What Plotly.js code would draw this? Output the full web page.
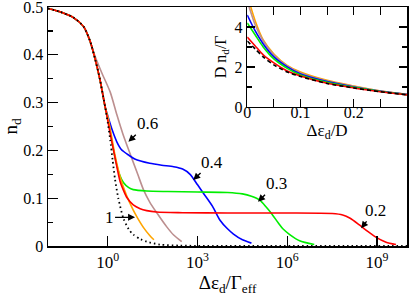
<!DOCTYPE html>
<html>
<head>
<meta charset="utf-8">
<script src="https://cdn.plot.ly/plotly-3.0.1.min.js"></script>
<style>html,body{margin:0;padding:0;background:#fff;}#plot{width:409px;height:297px;}</style>
</head>
<body>
<div id="plot"></div>
<script>
// ---------- main panel data (x given as log10 of Δε_d/Γ_eff) ----------
const commonLog = [-2, -1.6, -1.15, -0.81, -0.6, -0.42, -0.26, -0.09];
const commonNd  = [0.497, 0.49, 0.478, 0.459, 0.43, 0.39, 0.347, 0.291];

const dotLog = [0.0, 0.08, 0.16, 0.24, 0.35, 0.52, 0.7, 0.85, 1.1, 1.3, 1.74, 2.4, 3.0, 10];
const dotNd  = [0.257, 0.222, 0.18, 0.14, 0.1, 0.058, 0.035, 0.024, 0.014, 0.009, 0.003, 0.0008, 0.0004, 0.0004];

const redLog = [0.0, 0.08, 0.24, 0.41, 0.52, 0.63, 0.85, 1.08, 1.3, 1.63, 2.5, 4.0, 6.0, 7.5, 7.85, 8.1, 8.41, 8.7, 8.97, 9.3, 9.63];
const redNd  = [0.262, 0.235, 0.185, 0.135, 0.117, 0.102, 0.086, 0.078, 0.074, 0.071, 0.0697, 0.069, 0.069, 0.068, 0.065, 0.058, 0.044, 0.03, 0.018, 0.008, 0.003];

const orangeLog = [0.0, 0.08, 0.24, 0.41, 0.63, 0.85, 1.0, 1.2, 1.4, 1.54];
const orangeNd  = [0.27, 0.245, 0.19, 0.145, 0.105, 0.075, 0.058, 0.038, 0.022, 0.013];

const greenLog = [0.0, 0.08, 0.24, 0.4, 0.52, 0.7, 0.85, 1.3, 2.0, 3.0, 4.0, 4.5, 4.8, 5.08, 5.3, 5.47, 5.7, 5.85, 6.08, 6.41, 6.9];
const greenNd  = [0.265, 0.24, 0.185, 0.148, 0.133, 0.122, 0.118, 0.115, 0.114, 0.113, 0.112, 0.109, 0.104, 0.096, 0.081, 0.068, 0.048, 0.036, 0.024, 0.011, 0.003];

const blueLog = [0.0, 0.15, 0.3, 0.45, 0.7, 0.9, 1.4, 1.8, 2.2, 2.5, 2.75, 3.0, 3.2, 3.5, 3.75, 4.0, 4.2, 4.5, 4.8];
const blueNd  = [0.272, 0.242, 0.218, 0.202, 0.19, 0.182, 0.173, 0.169, 0.166, 0.161, 0.15, 0.128, 0.11, 0.083, 0.054, 0.036, 0.025, 0.013, 0.006];

const brownLog = [-2, -1.6, -1.15, -0.81, -0.6, -0.42, -0.2, 0.08, 0.3, 0.5, 0.75, 1.0, 1.19, 1.4, 1.63, 1.97, 2.2, 2.47];
const brownNd  = [0.497, 0.49, 0.478, 0.459, 0.429, 0.396, 0.362, 0.322, 0.275, 0.235, 0.192, 0.15, 0.118, 0.092, 0.07, 0.04, 0.023, 0.009];

const mainTickVals = [1, 1e3, 1e6, 1e9];
const mainTickText = ['10<sup>0</sup>', '10<sup>3</sup>', '10<sup>6</sup>', '10<sup>9</sup>'];
const yTickVals = [0, 0.1, 0.2, 0.3, 0.4, 0.5];
const yTickText = ['0', '0.1', '0.2', '0.3', '0.4', '0.5'];
const yMinorVals = [0.05, 0.15, 0.25, 0.35, 0.45];

// ---------- inset data ----------
const insetX      = [0, 0.015, 0.03, 0.05, 0.075, 0.1, 0.15, 0.2, 0.25, 0.3];
const insetOrange = [5.6, 4.3, 3.35, 2.65, 2.08, 1.75, 1.33, 1.05, 0.8, 0.63];
const insetBrown  = [5.3, 4.1, 3.3, 2.6, 2.05, 1.7, 1.3, 1.03, 0.8, 0.63];
const insetBlue   = [4.6, 3.8, 3.15, 2.5, 2.0, 1.65, 1.27, 1.0, 0.78, 0.62];
const insetGreen  = [4.2, 3.6, 3.0, 2.4, 1.93, 1.6, 1.23, 0.98, 0.77, 0.61];
const insetRed    = [3.5, 3.05, 2.6, 2.2, 1.8, 1.55, 1.18, 0.95, 0.76, 0.6];
const insetBlack  = [3.3, 2.9, 2.5, 2.1, 1.75, 1.52, 1.17, 0.95, 0.76, 0.6];
const insetTickVals = [0, 0.05, 0.1, 0.15, 0.2, 0.25];
const insetTickText = ['0', '', '0.1', '', '0.2', ''];
const insetYTickVals = [0, 2, 4];
const insetYTickText = ['0', '2', '4'];
const insetYMinorVals = [1, 3, 5];

// ---------- build ----------
const pw = v => Math.pow(10, v);
function mainTrace(logs, vals, color, dash, width, withCommon) {
  const lx = withCommon ? commonLog.concat(logs) : logs;
  const ly = withCommon ? commonNd.concat(vals) : vals;
  return {x: lx.map(pw), y: ly, mode: 'lines', type: 'scatter',
          line: {color: color, width: width || 1.6, dash: dash || 'solid', shape: 'spline', smoothing: 0.7},
          hoverinfo: 'skip'};
}
function insetTrace(vals, color, dash, width) {
  return {x: insetX, y: vals, xaxis: 'x2', yaxis: 'y2', mode: 'lines', type: 'scatter',
          line: {color: color, width: width || 1.6, dash: dash || 'solid', shape: 'spline', smoothing: 0.7},
          hoverinfo: 'skip'};
}

const data = [
  mainTrace(brownLog, brownNd, '#BC8F8F', 'solid', 1.6, false),
  mainTrace(blueLog, blueNd, '#0000FF', 'solid', 1.6, true),
  mainTrace(greenLog, greenNd, '#00EE00', 'solid', 1.6, true),
  mainTrace(orangeLog, orangeNd, '#FFA500', 'solid', 1.6, true),
  mainTrace(redLog, redNd, '#FF0000', 'solid', 1.6, true),
  mainTrace(dotLog, dotNd, '#000000', '1.5px,3px', 1.8, true),
  insetTrace(insetOrange, '#FFA500'),
  insetTrace(insetBrown, '#BC8F8F'),
  insetTrace(insetBlue, '#0000FF'),
  insetTrace(insetGreen, '#00EE00'),
  insetTrace(insetRed, '#FF0000'),
  insetTrace(insetBlack, '#000000', '4px,3px', 1.6)
];

const FONT = 'Liberation Serif';
const annFont = {family: FONT, size: 17, color: '#000000'};
function ann(text, hx, hy, ax, ay) {
  return {x: Math.log10(hx), y: hy, xref: 'x', yref: 'y', text: text, showarrow: true,
          ax: ax, ay: ay, arrowhead: 2, arrowsize: 1, arrowwidth: 1.4, arrowcolor: '#000000',
          font: annFont, standoff: 0};
}

const layout = {
  width: 409, height: 297,
  margin: {l: 48, r: 2, t: 7, b: 51, pad: 0},
  paper_bgcolor: '#ffffff', plot_bgcolor: '#ffffff',
  font: {family: FONT, size: 16, color: '#000000'},
  showlegend: false,
  xaxis: {
    type: 'log', range: [-2, 10], domain: [0, 1],
    tickmode: 'array', tickvals: mainTickVals, ticktext: mainTickText,
    ticks: 'inside', ticklen: 10, tickwidth: 1.2, tickcolor: '#000000',
    showline: true, linewidth: 1.5, linecolor: '#000000', mirror: true,
    showgrid: false, zeroline: false, ticklabeloverflow: 'allow',
    tickfont: {family: FONT, size: 17},
    title: {text: 'Δε<sub>d</sub>/Γ<sub>eff</sub>', font: {family: FONT, size: 19}, standoff: 2}
  },
  yaxis: {
    range: [0, 0.5001], domain: [0, 1],
    tickmode: 'array', tickvals: yTickVals, ticktext: yTickText,
    ticks: 'inside', ticklen: 10, tickwidth: 1.2, tickcolor: '#000000',
    minor: {tickmode: 'array', tickvals: yMinorVals, ticks: 'inside', ticklen: 5, tickwidth: 1.2, tickcolor: '#000000'},
    showline: true, linewidth: 1.5, linecolor: '#000000', mirror: true,
    showgrid: false, zeroline: false, ticklabeloverflow: 'allow',
    tickfont: {family: FONT, size: 16},
    title: {text: 'n<sub>d</sub>', font: {family: FONT, size: 19}, standoff: 8}
  },
  xaxis2: {
    anchor: 'y2', domain: [0.555, 1], range: [0, 0.3],
    tickmode: 'array', tickvals: insetTickVals, ticktext: insetTickText,
    ticks: 'inside', ticklen: 8, tickwidth: 1.2, tickcolor: '#000000',
    showline: true, linewidth: 1.5, linecolor: '#000000', mirror: 'ticks',
    showgrid: false, zeroline: false, ticklabeloverflow: 'allow',
    ticklabelstandoff: -10,
    tickfont: {family: FONT, size: 16},
    title: {text: 'Δε<sub>d</sub>/D', font: {family: FONT, size: 17}, standoff: 0}
  },
  yaxis2: {
    anchor: 'x2', domain: [0.582, 1], range: [0, 5],
    tickmode: 'array', tickvals: insetYTickVals, ticktext: insetYTickText,
    ticks: 'inside', ticklen: 8, tickwidth: 1.2, tickcolor: '#000000',
    minor: {tickmode: 'array', tickvals: insetYMinorVals, ticks: 'inside', ticklen: 5, tickwidth: 1.2, tickcolor: '#000000'},
    showline: true, linewidth: 1.5, linecolor: '#000000', mirror: 'ticks',
    showgrid: false, zeroline: false, ticklabeloverflow: 'allow',
    tickfont: {family: FONT, size: 16}
  },
  annotations: [
    ann('0.6', 4.87, 0.218, 19, -18),
    ann('0.4', 713, 0.138, 19, -18),
    ann('0.3', 104700, 0.0926, 18, -18),
    ann('0.2', 2.93e8, 0.037, 14, -18),
    ann('1', 8.13, 0.06, -26, 0),
    {xref: 'paper', yref: 'paper', x: 0.482, y: 0.79, xanchor: 'center', yanchor: 'middle',
     text: 'D n<sub>d</sub>/Γ', textangle: -90, showarrow: false, font: {family: FONT, size: 16, color: '#000000'}}
  ]
};

Plotly.newPlot('plot', data, layout, {staticPlot: true, displayModeBar: false});
</script>
</body>
</html>
